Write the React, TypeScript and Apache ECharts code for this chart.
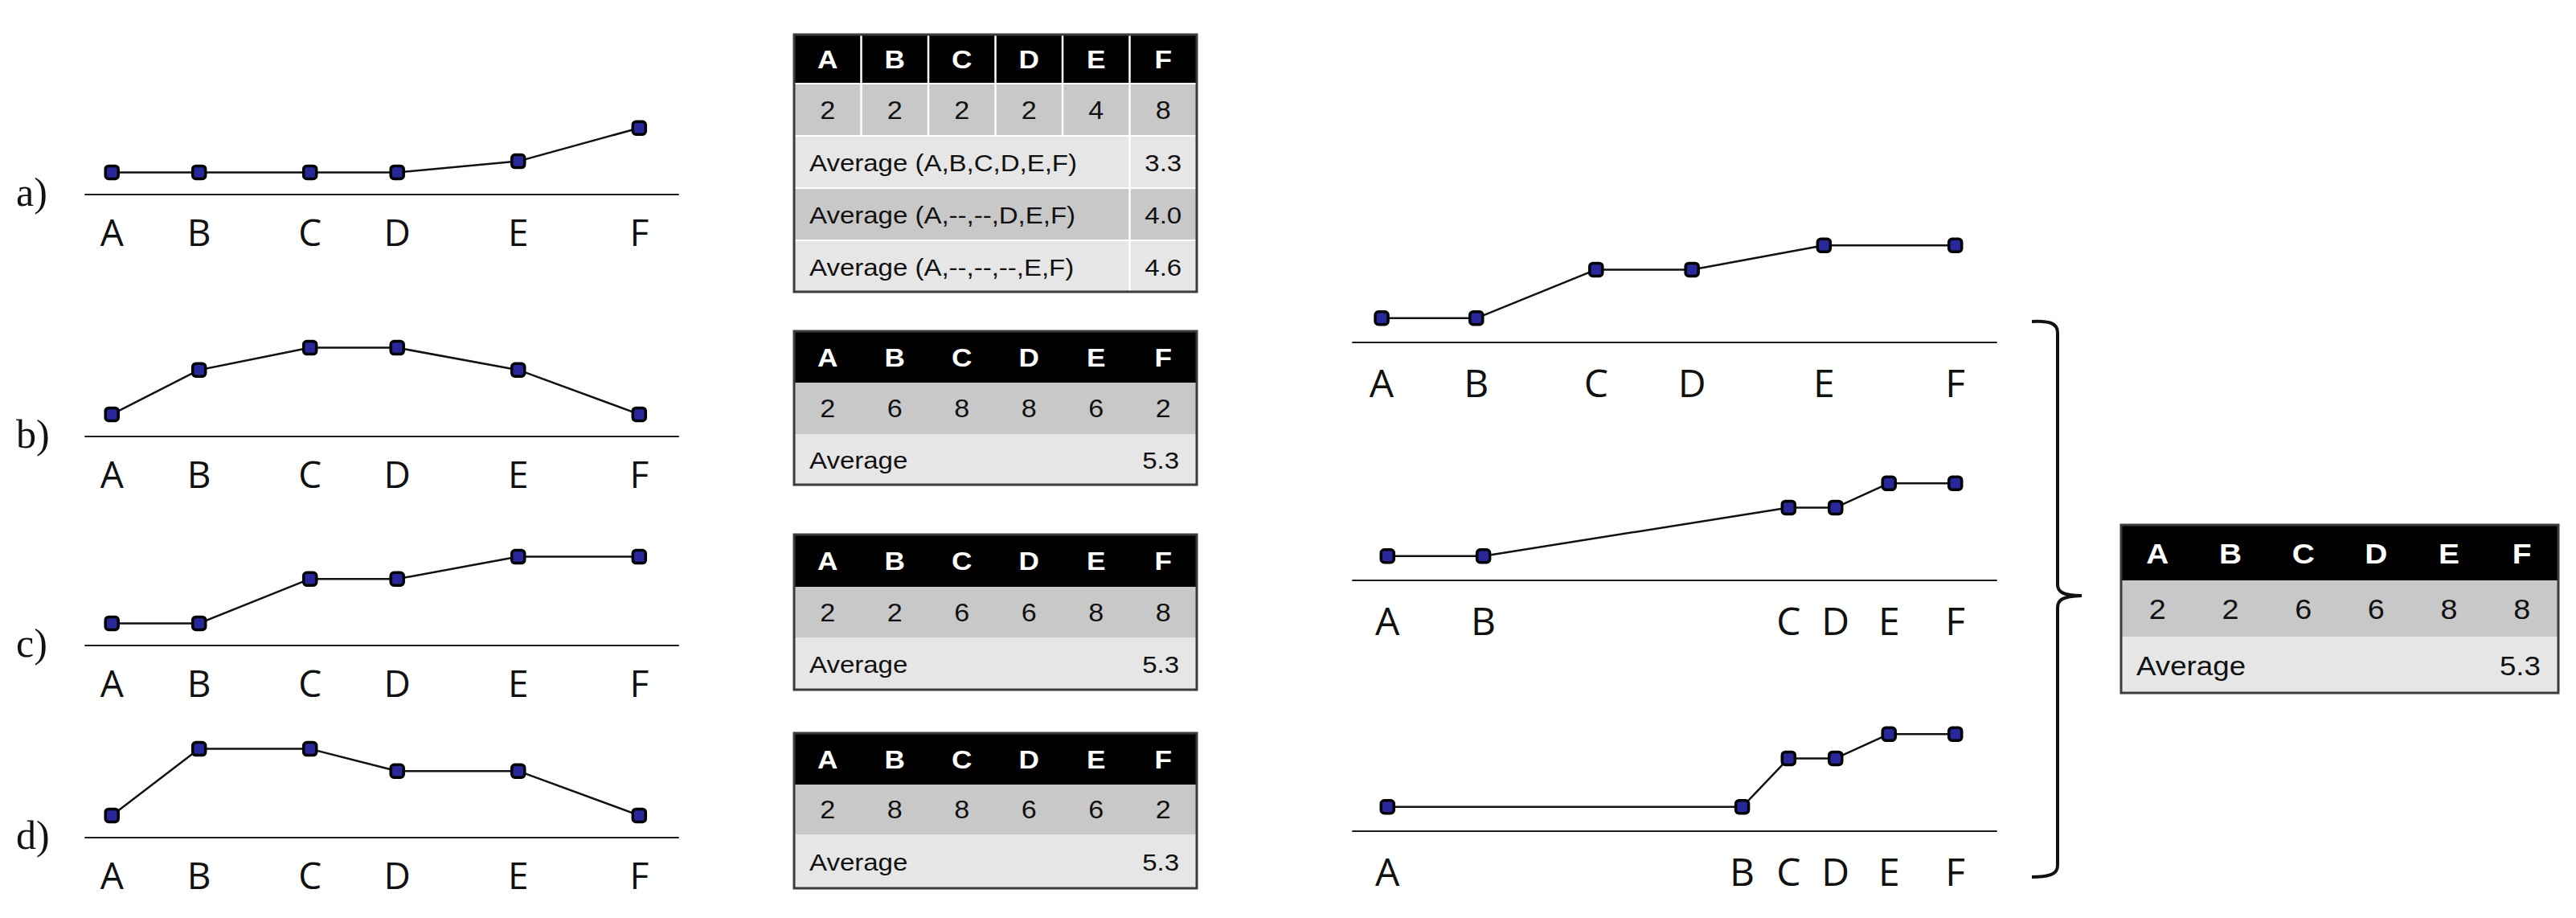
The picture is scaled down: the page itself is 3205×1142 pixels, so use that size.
import React, { useEffect, useRef } from "react";
import * as echarts from "echarts";

// ---------- data ----------
const letters = ["A", "B", "C", "D", "E", "F"];
const panelLabels = ["a)", "b)", "c)", "d)"];

// x positions of A..F on the left charts (axis spans 0..100)
const leftXs = [4.5, 19.2, 37.9, 52.6, 73.0, 93.4];
const aValues = [2, 2, 2, 2, 3, 6];
const bValues = [2, 6, 8, 8, 6, 2];
const cValues = [2, 2, 6, 6, 8, 8];
const dValues = [2, 8, 8, 6, 6, 2];

// right charts: same values, different spacing of A..F
const rightXs1 = [4.5, 19.2, 37.8, 52.7, 73.2, 93.6];
const rightXs2 = [5.4, 20.3, 67.7, 75.0, 83.3, 93.6];
const rightXs3 = [5.4, 60.5, 67.7, 75.0, 83.3, 93.6];
const rightValues = [2, 2, 6, 6, 8, 8];

// tables
const t1Values = ["2", "2", "2", "2", "4", "8"];
const t1AvgLabels = ["Average (A,B,C,D,E,F)", "Average (A,--,--,D,E,F)", "Average (A,--,--,--,E,F)"];
const t1AvgValues = ["3.3", "4.0", "4.6"];
const t2Values = ["2", "6", "8", "8", "6", "2"];
const t3Values = ["2", "2", "6", "6", "8", "8"];
const t4Values = ["2", "8", "8", "6", "6", "2"];
const t5Values = ["2", "2", "6", "6", "8", "8"];
const avgLabel = "Average";
const avgValue = "5.3";

// ---------- styles ----------
const GRAY = "#c8c8c8";
const LIGHT = "#e6e6e6";
const TABLE_FONT = "'Liberation Sans', Arial, sans-serif";
const AXIS_FONT = "'Open Sans', 'Noto Sans', sans-serif";

const braceD =
  "M2528,400 C2548,399 2560,401 2560,414 L2560,727 C2560,736 2566,741 2590,741 M2590,741 C2566,742 2560,746 2560,756 L2560,1077 C2560,1088 2548,1091 2528,1091";
echarts.graphic.registerShape("brace", echarts.graphic.extendPath(braceD, {}));

type AvgRow = { label: string; value: string; fill: string };

function buildTable(
  left: number,
  top: number,
  width: number,
  rowH: number[],
  gap: number,
  values: string[],
  avgRows: AvgRow[],
  grid: boolean,
  fontSize: number,
  sx: number
): any[] {
  const els: any[] = [];
  const cw = width / 6;
  const tops: number[] = [];
  let y = top;
  rowH.forEach((h) => {
    tops.push(y);
    y += h + gap;
  });
  const bottom = y - gap;
  els.push({ type: "rect", z: 10, shape: { x: left, y: top, width, height: bottom - top }, style: { fill: "#ffffff" } });
  const fills = ["#000000", GRAY, ...avgRows.map((r) => r.fill)];
  rowH.forEach((h, r) => {
    els.push({ type: "rect", z: 11, shape: { x: left, y: tops[r], width, height: h }, style: { fill: fills[r] } });
  });
  if (grid) {
    for (let r = 0; r < rowH.length; r++) {
      const cols = r < 2 ? [1, 2, 3, 4, 5] : [5];
      cols.forEach((c) => {
        els.push({
          type: "line",
          z: 12,
          shape: { x1: left + c * cw, y1: tops[r], x2: left + c * cw, y2: tops[r] + rowH[r] },
          style: { stroke: "#ffffff", lineWidth: 2.5 },
        });
      });
    }
  }
  const txt = (x: number, yy: number, text: string, align: string, bold: boolean, color: string, fs: number) => ({
    type: "text",
    z: 13,
    x,
    y: yy,
    scaleX: sx,
    style: {
      text,
      fontSize: fs,
      fontFamily: TABLE_FONT,
      fontWeight: bold ? "bold" : "normal",
      fill: color,
      align,
      verticalAlign: "middle",
    },
  });
  letters.forEach((l, i) => {
    els.push(txt(left + (i + 0.5) * cw, tops[0] + rowH[0] / 2 + 1, l, "center", true, "#ffffff", fontSize + 2));
  });
  values.forEach((v, i) => {
    els.push(txt(left + (i + 0.5) * cw, tops[1] + rowH[1] / 2 + 1, v, "center", false, "#111111", fontSize + 1));
  });
  avgRows.forEach((row, k) => {
    const r = k + 2;
    const cy = tops[r] + rowH[r] / 2 + 1;
    els.push(txt(left + 19, cy, row.label, "left", false, "#111111", fontSize));
    if (grid) els.push(txt(left + 5.5 * cw, cy, row.value, "center", false, "#111111", fontSize));
    else els.push(txt(left + width - 22, cy, row.value, "right", false, "#111111", fontSize));
  });
  els.push({
    type: "rect",
    z: 14,
    shape: { x: left, y: top, width, height: bottom - top },
    style: { fill: "none", stroke: "#3c3c3c", lineWidth: 3 },
  });
  return els;
}

export default function App() {
  const ref = useRef<HTMLDivElement>(null);
  useEffect(() => {
    if (!ref.current) return;
    const chart = echarts.init(ref.current, undefined, { renderer: "svg" });

    const panels = [
      { xs: leftXs, vals: aValues, left: 106, width: 738, axisY: 242, h: 138, fs: 46, margin: 23 },
      { xs: leftXs, vals: bValues, left: 106, width: 738, axisY: 543, h: 138, fs: 46, margin: 23 },
      { xs: leftXs, vals: cValues, left: 106, width: 738, axisY: 803, h: 138, fs: 46, margin: 23 },
      { xs: leftXs, vals: dValues, left: 106, width: 738, axisY: 1042, h: 138, fs: 46, margin: 23 },
      { xs: rightXs1, vals: rightValues, left: 1683, width: 801, axisY: 426, h: 151, fs: 48, margin: 25 },
      { xs: rightXs2, vals: rightValues, left: 1683, width: 801, axisY: 722, h: 151, fs: 48, margin: 25 },
      { xs: rightXs3, vals: rightValues, left: 1683, width: 801, axisY: 1034, h: 151, fs: 48, margin: 25 },
    ];

    const grids = panels.map((p) => ({ left: p.left, width: p.width, top: p.axisY - p.h, height: p.h }));
    const xAxes = panels.map((p, i) => ({
      type: "value",
      gridIndex: i,
      min: 0,
      max: 100,
      axisLine: { show: true, onZero: false, lineStyle: { color: "#1e1e1e", width: 2 } },
      axisTick: { show: false },
      splitLine: { show: false },
      axisLabel: {
        customValues: p.xs,
        formatter: (v: number) => {
          const idx = p.xs.indexOf(v);
          return idx >= 0 ? letters[idx] : "";
        },
        fontFamily: AXIS_FONT,
        fontSize: p.fs,
        color: "#111111",
        margin: p.margin,
        hideOverlap: false,
      },
    }));
    const yAxes = panels.map((_, i) => ({ type: "value", gridIndex: i, min: 0, max: 10, show: false }));
    const series = panels.map((p, i) => ({
      type: "line",
      xAxisIndex: i,
      yAxisIndex: i,
      data: p.xs.map((x, j) => [x, p.vals[j]]),
      symbol: "roundRect",
      symbolSize: 16,
      itemStyle: { color: "#28289a", borderColor: "#000000", borderWidth: 3.5 },
      lineStyle: { color: "#111111", width: 2.5 },
      z: 3,
    }));

    const graphics: any[] = [];
    panels.slice(0, 4).forEach((p, i) => {
      graphics.push({
        type: "text",
        x: 20,
        y: p.axisY - 3,
        style: {
          text: panelLabels[i],
          fontSize: 50,
          fontFamily: "'Liberation Serif', 'Times New Roman', serif",
          fill: "#111111",
          align: "left",
          verticalAlign: "middle",
        },
      });
    });

    graphics.push(
      ...buildTable(
        988, 43, 501, [60, 63, 63, 63, 63], 2, t1Values,
        [
          { label: t1AvgLabels[0], value: t1AvgValues[0], fill: LIGHT },
          { label: t1AvgLabels[1], value: t1AvgValues[1], fill: GRAY },
          { label: t1AvgLabels[2], value: t1AvgValues[2], fill: LIGHT },
        ],
        true, 30, 1.1
      )
    );
    graphics.push(...buildTable(988, 412, 501, [64, 64, 63], 0, t2Values, [{ label: avgLabel, value: avgValue, fill: LIGHT }], false, 30, 1.1));
    graphics.push(...buildTable(988, 665, 501, [65, 63, 65], 0, t3Values, [{ label: avgLabel, value: avgValue, fill: LIGHT }], false, 30, 1.1));
    graphics.push(...buildTable(988, 912, 501, [64, 62, 67], 0, t4Values, [{ label: avgLabel, value: avgValue, fill: LIGHT }], false, 30, 1.1));
    graphics.push(...buildTable(2639, 653, 544, [69, 70, 70], 0, t5Values, [{ label: avgLabel, value: avgValue, fill: LIGHT }], false, 34, 1.08));

    graphics.push({
      type: "brace",
      x: 0,
      y: 0,
      style: { stroke: "#111111", lineWidth: 4, fill: "none" },
    });

    chart.setOption({
      animation: false,
      backgroundColor: "#ffffff",
      grid: grids,
      xAxis: xAxes,
      yAxis: yAxes,
      series,
      graphic: graphics,
    });

    return () => chart.dispose();
  }, []);

  return (
    <div
      ref={ref}
      style={{ position: "fixed", left: 0, top: 0, width: 3205, height: 1142, background: "#ffffff" }}
    />
  );
}
